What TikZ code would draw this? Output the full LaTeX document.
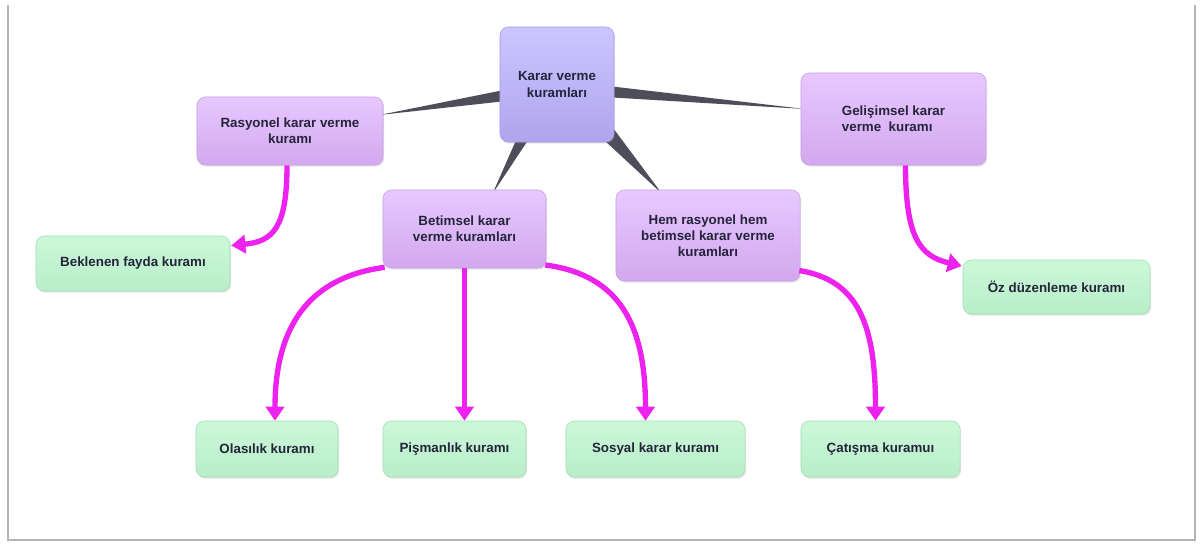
\documentclass[tikz,border=0pt]{standalone}
\usepackage{fontspec}
\setmainfont{Liberation Sans}
\usetikzlibrary{arrows.meta,shadows,backgrounds,calc}

\definecolor{txt}{HTML}{24243A}
\definecolor{rootTop}{HTML}{CCC6FF}
\definecolor{rootBot}{HTML}{B0A4EE}
\definecolor{rootEdge}{HTML}{A89CE4}
\definecolor{purTop}{HTML}{E8C8FF}
\definecolor{purBot}{HTML}{D2A8EE}
\definecolor{purEdge}{HTML}{C8A0E4}
\definecolor{leafTop}{HTML}{CCF8DA}
\definecolor{leafBot}{HTML}{B8EEC8}
\definecolor{leafEdge}{HTML}{A4DEB6}
\definecolor{wedgeC}{HTML}{4E4E5A}
\definecolor{magentaC}{HTML}{EE22EE}
\definecolor{frameC}{HTML}{B4B4B4}

\tikzset{
  box/.style={rounded corners=6pt, align=center, text=txt, inner sep=2pt,
    font=\bfseries\fontsize{9.5}{11.5}\selectfont,
    drop shadow={opacity=0.22, shadow xshift=0.8pt, shadow yshift=-1.2pt}},
  rootbox/.style={box, top color=rootTop, bottom color=rootBot, draw=rootEdge, line width=0.4pt},
  theory/.style={box, top color=purTop, bottom color=purBot, draw=purEdge, line width=0.4pt},
  leaf/.style={box, top color=leafTop, bottom color=leafBot, draw=leafEdge, line width=0.4pt,
    minimum height=1.4cm},
  wedge/.style={fill=wedgeC},
  arr/.style={draw=magentaC, line width=3.8pt,
    -{Triangle[width=13pt,length=10pt]}},
  frameline/.style={draw=frameC, line width=1.6pt}
}

\begin{document}
\begin{tikzpicture}[x=0.025cm,y=-0.025cm]
  \useasboundingbox (0,0) rectangle (1200,544);

  % page frame
  \draw[frameline] (8,5) -- (8,540) -- (1195,540) -- (1195,5);

  % central topic
  \node[rootbox, minimum width=2.85cm, minimum height=2.875cm] (root) at (557,84.5)
    {Karar verme\\kuramları};

  % main theories
  \node[theory, minimum width=4.65cm, minimum height=1.7cm] (ras) at (290,131)
    {Rasyonel karar verme\\kuramı};
  \node[theory, minimum width=4.625cm, minimum height=2.3cm, align=left] (gel) at (893.5,119)
    {Gelişimsel karar\\verme~ kuramı};
  \node[theory, minimum width=4.075cm, minimum height=1.95cm] (bet) at (464.5,229)
    {Betimsel karar\\verme kuramları};
  \node[theory, minimum width=4.6cm, minimum height=2.275cm] (hem) at (708,235.5)
    {Hem rasyonel hem\\betimsel karar verme\\kuramları};

  % sub-theories
  \node[leaf, minimum width=4.85cm, minimum height=1.375cm] (bek) at (133,263.5) {Beklenen fayda kuramı};
  \node[leaf, minimum width=4.675cm, minimum height=1.35cm] (oz) at (1056.5,287) {Öz düzenleme kuramı};
  \node[leaf, minimum width=3.55cm] (ola) at (267,449) {Olasılık kuramı};
  \node[leaf, minimum width=3.575cm] (pis) at (454.5,449) {Pişmanlık kuramı};
  \node[leaf, minimum width=4.475cm] (sos) at (655.5,449) {Sosyal karar kuramı};
  \node[leaf, minimum width=3.975cm] (cat) at (880.5,449) {Çatışma kuramuı};

  % tapered branches from the central topic
  \begin{scope}[on background layer]
    \fill[wedge] ($(root.west)+(2,6)$) -- ($(root.west)+(2,17)$) -- ($(ras.east)+(-4,-16)$) -- cycle;
    \fill[wedge] ($(root.east)+(-2,2)$) -- ($(root.east)+(-2,13)$) -- ($(gel.west)+(4,-10)$) -- cycle;
    \fill[wedge] ($(root.south)+(-41,-2)$) -- ($(root.south)+(-29,-2)$) -- ($(bet.north)+(28,4)$) -- cycle;
    \fill[wedge] ($(root.south east)+(-10,-2)$) -- ($(root.south east)+(-1,-14)$) -- ($(hem.north)+(-46,4)$) -- cycle;
  \end{scope}

  % magenta arrows to the sub-theories
  \draw[arr] ($(ras.south)+(-3,0)$) .. controls +(0,62) and +(42,-4) .. ($(bek.east)+(1,-18)$);
  \draw[arr] ($(gel.south)+(12,0)$) .. controls +(0,72) and +(-42,-10) .. ($(oz.west)+(-1,-21)$);
  \draw[arr] ($(bet.south west)+(2,-1)$) .. controls +(-75,10) and +(0,-95) .. ($(ola.north)+(8,0)$);
  \draw[arr] (bet.south) -- ($(pis.north)+(10,0)$);
  \draw[arr] ($(bet.east)+(-1,36)$) .. controls +(75,10) and +(0,-95) .. ($(sos.north)+(-10,0)$);
  \draw[arr] ($(hem.east)+(-1,35)$) .. controls +(60,10) and +(0,-95) .. ($(cat.north)+(-5,0)$);
\end{tikzpicture}
\end{document}
